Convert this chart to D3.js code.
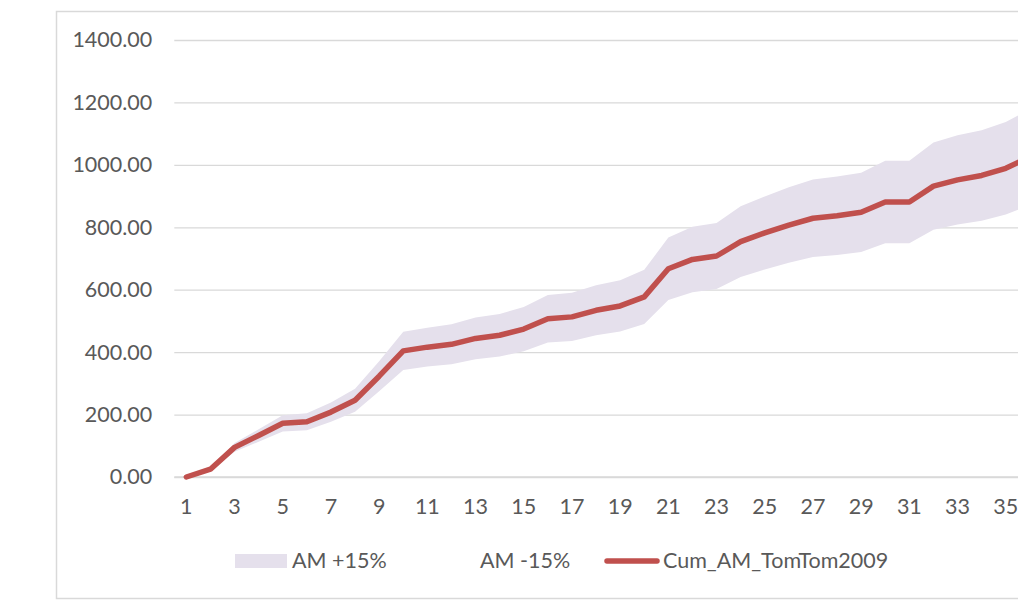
<!DOCTYPE html>
<html>
<head>
<meta charset="utf-8">
<script src="https://cdn.jsdelivr.net/npm/d3@7"></script>
<style>
  html, body { margin: 0; padding: 0; background: #fff; overflow: hidden; }
  svg { display: block; }
  text { font-family: Lato, "Open Sans", sans-serif; fill: #595959; }
</style>
</head>
<body>
<svg id="chart" width="1018" height="602"></svg>
<script>
// ---- data ----
const categories = d3.range(1, 37);
const cumAM = [0, 25, 95, 133, 172, 177, 208, 246, 323, 404, 416, 425, 444, 454, 474, 507, 513, 534, 548, 577,
               667, 697, 708, 754, 782, 807, 829, 837, 848, 881, 881, 932, 952, 966, 989, 1025];
const amPlus15 = [0, 29, 109, 153, 198, 204, 239, 283, 371, 465, 478, 489, 511, 522, 545, 583, 590, 614, 630, 664,
                  767, 802, 814, 867, 899, 928, 953, 963, 975, 1013, 1013, 1072, 1095, 1111, 1137, 1179];
const amMinus15 = [0, 21, 81, 113, 146, 150, 177, 209, 275, 343, 354, 361, 377, 386, 403, 431, 436, 454, 466, 490,
                   567, 592, 602, 641, 665, 686, 705, 711, 721, 749, 749, 792, 809, 821, 841, 871];
const yTicks = [0, 200, 400, 600, 800, 1000, 1200, 1400];
const xTickLabels = categories.filter(c => c % 2 === 1);
const seriesNames = ["AM +15%", "AM -15%", "Cum_AM_TomTom2009"];

const bandColor = "#e5e0ec";
const lineColor = "#c0504d";
const gridColor = "#d9d9d9";
const fontSize = 21.5;

const svg = d3.select("#chart");

// outer chart border (extends past the right edge of the view)
svg.append("rect")
  .attr("x", 56.5).attr("y", 11.5)
  .attr("width", 1100).attr("height", 587)
  .attr("fill", "none").attr("stroke", gridColor).attr("stroke-width", 1.5);

const plotLeft = 174.3, step = 24.1;
const x = d3.scaleBand().domain(categories).range([plotLeft, plotLeft + step * categories.length]).padding(0);
const cx = c => x(c) + x.bandwidth() / 2;
const y = d3.scaleLinear().domain([0, 1400]).range([477, 40]);

// gridlines + y labels
const yAxis = d3.axisLeft(y).tickValues(yTicks).tickFormat(d3.format(".2f"))
  .tickSize(-(1100)).tickPadding(22);
const gy = svg.append("g").attr("transform", `translate(${plotLeft},0)`).call(yAxis);
gy.select(".domain").remove();
gy.selectAll(".tick line").attr("stroke", gridColor).attr("stroke-width", 1.3);
gy.selectAll(".tick text").attr("font-size", fontSize).attr("fill", "#595959")
  .style("font-family", "Lato, 'Open Sans', sans-serif");

// band (AM -15% .. AM +15%)
const idx = d3.range(categories.length);
const area = d3.area()
  .x(i => cx(categories[i]))
  .y0(i => y(amMinus15[i]))
  .y1(i => y(amPlus15[i]));
svg.append("path").datum(idx).attr("d", area).attr("fill", bandColor);

// x axis
const xAxis = d3.axisBottom(x).tickValues(xTickLabels).tickSize(0).tickPadding(22);
const gx = svg.append("g").attr("transform", "translate(0,477)").call(xAxis);
gx.select(".domain").attr("stroke", gridColor).attr("stroke-width", 1.3)
  .attr("d", `M${plotLeft},0H${plotLeft + 1100}`);
gx.selectAll(".tick text").attr("font-size", fontSize).attr("fill", "#595959")
  .style("font-family", "Lato, 'Open Sans', sans-serif");

// line
const line = d3.line().x(i => cx(categories[i])).y(i => y(cumAM[i]));
svg.append("path").datum(idx).attr("d", line)
  .attr("fill", "none").attr("stroke", lineColor).attr("stroke-width", 5.5)
  .attr("stroke-linejoin", "round").attr("stroke-linecap", "round");

// legend
const lg = svg.append("g").attr("font-size", fontSize);
lg.append("rect").attr("x", 235).attr("y", 554).attr("width", 52).attr("height", 14).attr("fill", bandColor);
lg.append("text").attr("x", 292).attr("y", 568).text(seriesNames[0]);
lg.append("text").attr("x", 480).attr("y", 568).text(seriesNames[1]);
lg.append("line").attr("x1", 607).attr("x2", 657).attr("y1", 561).attr("y2", 561)
  .attr("stroke", lineColor).attr("stroke-width", 5.5).attr("stroke-linecap", "round");
lg.append("text").attr("x", 663).attr("y", 568).text(seriesNames[2]);
</script>
</body>
</html>
